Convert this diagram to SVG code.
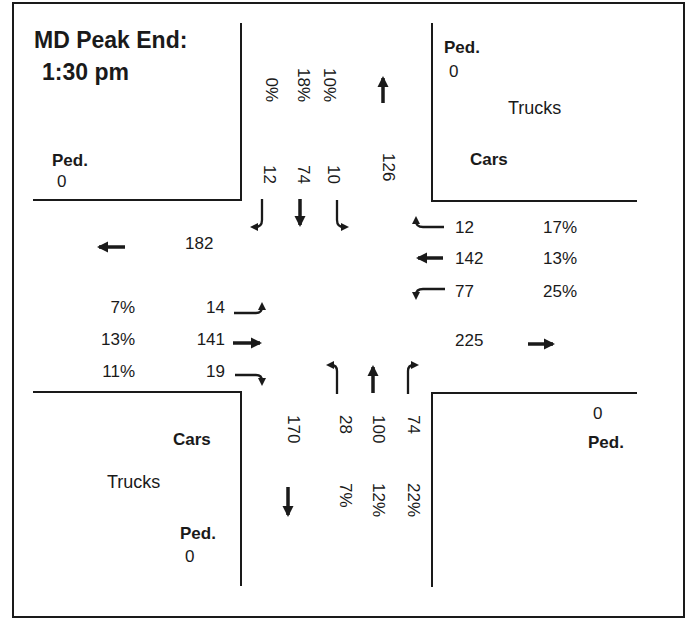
<svg xmlns="http://www.w3.org/2000/svg" width="690" height="620" viewBox="0 0 690 620">
<defs>
<style>
text{font-family:"Liberation Sans",Arial,sans-serif;fill:#1a1a1a;font-size:17px}
.b{font-weight:bold}
.t{font-size:23px;font-weight:bold}
.tr{font-size:18px}
.e{text-anchor:end}
.curb{stroke:#1a1a1a;stroke-width:2;fill:none}
.thru{stroke:#1a1a1a;stroke-width:3.5;fill:none;marker-end:url(#big)}
.turn{stroke:#1a1a1a;stroke-width:2.3;fill:none;marker-end:url(#small)}
</style>
<marker id="big" markerUnits="userSpaceOnUse" markerWidth="12" markerHeight="12" refX="9" refY="6" orient="auto" viewBox="0 0 12 12">
<path d="M0,0.5 L11,6 L0,11.5 z" fill="#1a1a1a"/>
</marker>
<marker id="small" markerUnits="userSpaceOnUse" markerWidth="9" markerHeight="9" refX="3" refY="4.5" orient="auto" viewBox="0 0 9 9">
<path d="M0,0.5 L8,4.5 L0,8.5 z" fill="#1a1a1a"/>
</marker>
</defs>
<rect x="0" y="0" width="690" height="620" fill="#fff"/>
<rect x="13" y="3" width="671" height="614" fill="none" stroke="#1a1a1a" stroke-width="2"/>

<g id="curbs">
<path class="curb" d="M241,23 V200 H33"/>
<path class="curb" d="M432,23 V201 H637"/>
<path class="curb" d="M33,392 H241 V586"/>
<path class="curb" d="M637,393 H432 V587"/>
</g>

<g id="title">
<text class="t" x="34" y="48">MD Peak End:</text>
<text class="t" x="42" y="80">1:30 pm</text>
</g>

<g id="nw">
<text class="b" x="52" y="166">Ped.</text>
<text x="57" y="187">0</text>
</g>
<g id="ne">
<text class="b" x="444" y="53">Ped.</text>
<text x="449" y="77">0</text>
<text class="tr" x="508" y="114">Trucks</text>
<text class="b" x="470" y="165">Cars</text>
</g>
<g id="sw">
<text class="b" x="173" y="445">Cars</text>
<text class="tr" x="107" y="488">Trucks</text>
<text class="b" x="180" y="539">Ped.</text>
<text x="185" y="562">0</text>
</g>
<g id="se">
<text x="593" y="419">0</text>
<text class="b" x="588" y="448">Ped.</text>
</g>

<g id="north-approach">
<text class="e" transform="translate(266,102) rotate(90)">0%</text>
<text class="e" transform="translate(298,102) rotate(90)">18%</text>
<text class="e" transform="translate(324,102) rotate(90)">10%</text>
<text transform="translate(264,165) rotate(90)">12</text>
<text transform="translate(298,165) rotate(90)">74</text>
<text transform="translate(328,165) rotate(90)">10</text>
<text transform="translate(383,153) rotate(90)">126</text>
</g>
<g id="east-approach">
<text x="455" y="233">12</text>
<text x="455" y="264">142</text>
<text x="455" y="297">77</text>
<text x="455" y="346">225</text>
<text x="543" y="233">17%</text>
<text x="543" y="264">13%</text>
<text x="543" y="297">25%</text>
</g>
<g id="west-approach">
<text x="185" y="249">182</text>
<text class="e" x="135" y="313">7%</text>
<text class="e" x="135" y="345">13%</text>
<text class="e" x="135" y="377">11%</text>
<text class="e" x="225" y="313">14</text>
<text class="e" x="225" y="345">141</text>
<text class="e" x="225" y="377">19</text>
</g>
<g id="south-approach">
<text transform="translate(288,415) rotate(90)">170</text>
<text transform="translate(340,415) rotate(90)">28</text>
<text transform="translate(373,415) rotate(90)">100</text>
<text transform="translate(408,415) rotate(90)">74</text>
<text transform="translate(340,483) rotate(90)">7%</text>
<text transform="translate(373,483) rotate(90)">12%</text>
<text transform="translate(408,483) rotate(90)">22%</text>
</g>

<g id="connectors">
<path class="thru" d="M383,103 V78"/>
<path class="thru" d="M300,199 V225"/>
<path class="turn" d="M262,199 V220 Q262,227 255,227"/>
<path class="turn" d="M337,200 V220 Q337,227 344,227"/>
<path class="turn" d="M444,227 H423 Q416,227 416,221"/>
<path class="thru" d="M443,258 H418"/>
<path class="turn" d="M445,289 H423 Q416,289 416,295"/>
<path class="thru" d="M528,344 H553"/>
<path class="thru" d="M125,247 H99"/>
<path class="turn" d="M234,313 H256 Q262,313 262,307"/>
<path class="thru" d="M233,343 H260"/>
<path class="turn" d="M235,375 H256 Q262,375 262,381"/>
<path class="turn" d="M337,394 V371 Q337,365 331,365"/>
<path class="thru" d="M373,393 V367"/>
<path class="turn" d="M408,394 V371 Q408,365 414,365"/>
<path class="thru" d="M288,487 V515"/>
</g>
</svg>
